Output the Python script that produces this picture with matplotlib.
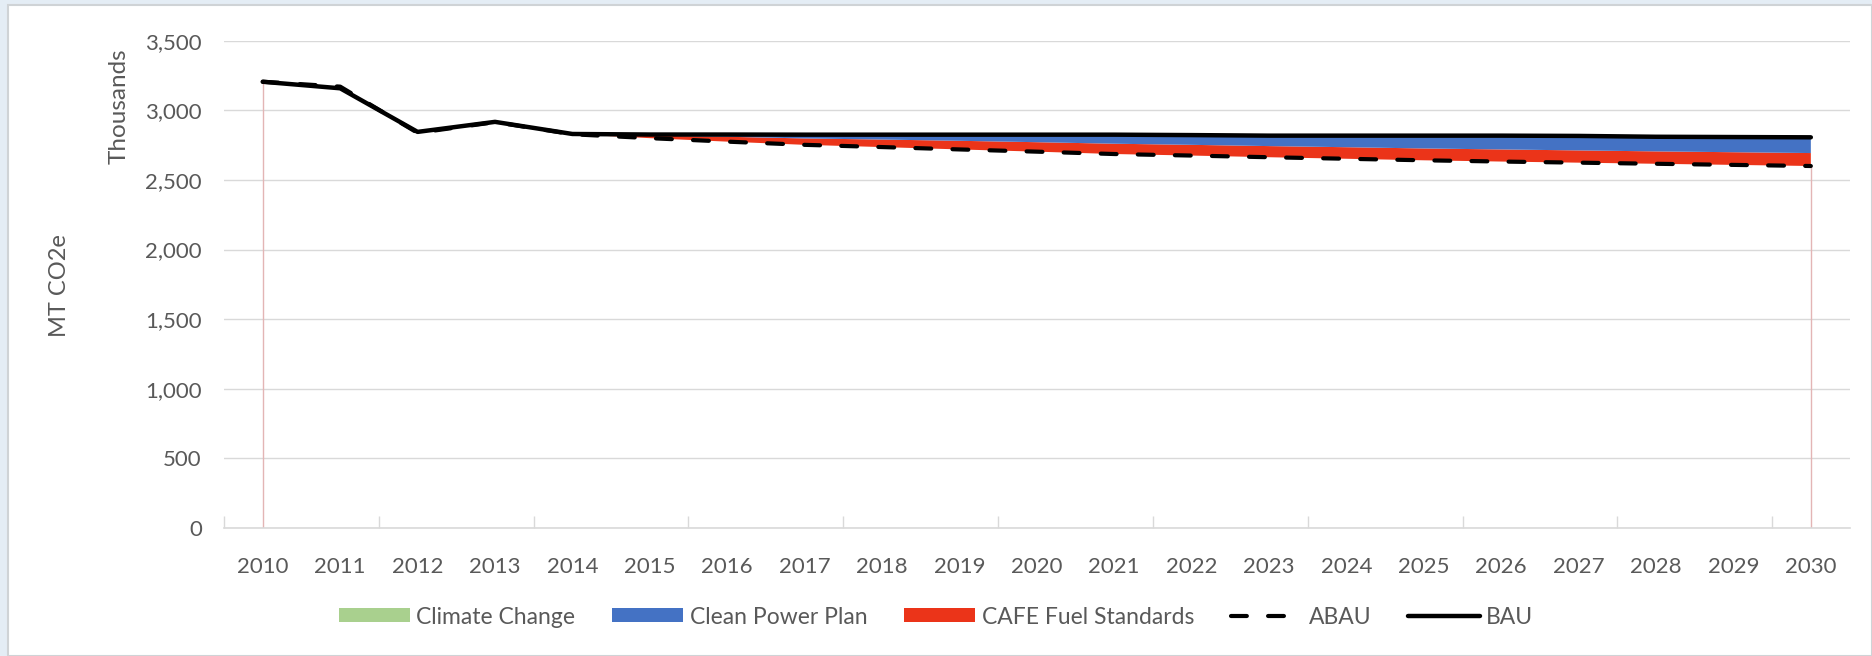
import matplotlib
matplotlib.use("Agg")
from matplotlib import pyplot as plt
from matplotlib.patches import Rectangle, Patch
from matplotlib.lines import Line2D
from matplotlib.ticker import FuncFormatter

years = list(range(2010, 2031))
bau = [3205, 3158, 2845, 2917, 2830, 2826, 2826, 2825, 2825, 2825, 2825,
       2825, 2822, 2818, 2818, 2818, 2818, 2816, 2810, 2808, 2806]
abau = [3205, 3170, 2838, 2915, 2828, 2800, 2775, 2752, 2736, 2719, 2703,
        2686, 2675, 2663, 2652, 2641, 2632, 2624, 2616, 2608, 2600]
cafe = [0, 0, 0, 0, 2, 18, 35, 46, 54, 62, 68, 74, 77, 80, 83, 85, 87, 88, 89, 91, 93]
cpp = [0, 0, 0, 0, 0, 7, 15, 26, 33, 42, 52, 62, 67, 72, 80, 88, 95, 100, 101, 104, 108]
climate = [0, 0, 0, 0, 0, 1, 1, 1, 2, 2, 2, 3, 3, 3, 3, 4, 4, 4, 4, 5, 5]

green = "#a9d08e"
blue = "#4472c4"
red = "#eb3419"
grey_text = "#595959"
grid_col = "#d9d9d9"

plt.rcParams['font.family'] = ['Lato', 'DejaVu Sans']

fig = plt.figure(figsize=(18.72, 6.56), dpi=100, facecolor="#e4edf5")
# white chart area on the light slide background
fig.patches.append(Rectangle((8 / 1872, 0), 1 - 8 / 1872, 1 - 5 / 656,
                             transform=fig.transFigure, facecolor="white",
                             edgecolor="#cfd3d6", lw=1.5, zorder=-5))

ax = fig.add_axes([0.1197, 0.195, 0.988 - 0.1197, 0.938 - 0.195])
ax.set_facecolor("none")

# stacked areas on top of the (invisible) ABAU base
base = list(abau)
for vals, col in [(cafe, red), (cpp, blue), (climate, green)]:
    top = [b + v for b, v in zip(base, vals)]
    ax.fill_between(years, base, top, facecolor=col, edgecolor="none", zorder=2)
    base = top
ax.vlines([years[0], years[-1]], 0, [abau[0], abau[-1]], color="#e3b5b5", lw=1, zorder=2)

ax.plot(years, abau, color="black", lw=3, dashes=(3.8, 5.1),
        dash_capstyle="round", zorder=3)
ax.plot(years, bau, color="black", lw=3.2, solid_capstyle="round", zorder=4)

ax.set_xlim(2009.5, 2030.5)
ax.set_ylim(0, 3500)
ax.set_yticks(range(0, 3501, 500))
ax.yaxis.set_major_formatter(FuncFormatter(lambda v, p: f"{int(v):,}"))
ax.grid(axis="y", color=grid_col, lw=1)
ax.set_axisbelow(True)

ax.set_xticks(years)
ax.set_xticklabels([str(y) for y in years])
ax.set_xticks([y - 0.5 for y in years[::2]], minor=True)
ax.tick_params(axis="x", which="major", length=0, pad=21, labelsize=16, labelcolor=grey_text)
ax.tick_params(axis="x", which="minor", length=9, direction="in", color=grid_col, width=1)
ax.tick_params(axis="y", length=0, pad=16, labelsize=16, labelcolor=grey_text)

for s in ["top", "right", "left"]:
    ax.spines[s].set_visible(False)
ax.spines["bottom"].set_color(grid_col)
ax.spines["bottom"].set_linewidth(1.2)

fig.text(119 / 1872, 1 - 106 / 656, "Thousands", rotation=90, ha="center", va="center",
         fontsize=17.5, color=grey_text)
fig.text(60 / 1872, 1 - 286 / 656, "MT CO2e", rotation=90, ha="center", va="center",
         fontsize=17, color=grey_text)

handles = [
    Patch(facecolor=green, edgecolor="none"),
    Patch(facecolor=blue, edgecolor="none"),
    Patch(facecolor=red, edgecolor="none"),
    Line2D([], [], color="black", lw=3, dashes=(3.8, 5.1), dash_capstyle="round"),
    Line2D([], [], color="black", lw=3.2, solid_capstyle="round"),
]
labels = ["Climate Change", "Clean Power Plan", "CAFE Fuel Standards", "ABAU", "BAU"]
leg = fig.legend(handles, labels, loc="center", bbox_to_anchor=(0.5, 1 - 617 / 656),
                 ncol=5, frameon=False, fontsize=16.5, handlelength=3.1,
                 handleheight=0.55, handletextpad=0.3, columnspacing=1.6,
                 labelcolor=grey_text)

fig.savefig("out.png", dpi=100, facecolor=fig.get_facecolor())
